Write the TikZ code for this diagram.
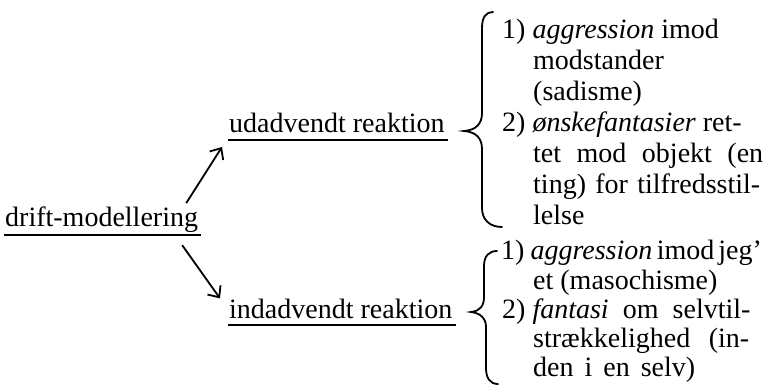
\documentclass[tikz,border=0pt]{standalone}
\usepackage{fontspec}
\setmainfont{Liberation Serif}
\usetikzlibrary{arrows.meta}
\begin{document}
\begin{tikzpicture}[x=1pt,y=-1pt,
  lbl/.style={anchor=base west,inner sep=0pt,font=\fontsize{28}{31}\selectfont},
  uline/.style={line width=1.6pt},
  conn/.style={line width=1.8pt,-{Straight Barb[length=9pt,width=16pt,line width=1.8pt]}},
  bracepath/.style={line width=1.8pt,line cap=round}]
\useasboundingbox (0,0) rectangle (763,386);
% left labels
\node[lbl] (drift) at (5,226) {drift-modellering};
\node[lbl] (ud) at (229,132) {udadvendt reaktion};
\node[lbl] (ind) at (229,318) {indadvendt reaktion};
% underlines
\draw[uline] ([xshift=-1pt,yshift=-9pt]drift.base west) -- ([xshift=3pt,yshift=-9pt]drift.base east);
\draw[uline] ([xshift=-1pt,yshift=-8pt]ud.base west) -- ([xshift=3pt,yshift=-8pt]ud.base east);
\draw[uline] ([xshift=-1pt,yshift=-7pt]ind.base west) -- ([xshift=3pt,yshift=-7pt]ind.base east);
% arrows
\draw[conn] ([xshift=-12pt,yshift=3pt]drift.north east) -- ([xshift=-7pt,yshift=-15pt]ud.base west);
\draw[conn] ([xshift=-16pt,yshift=-13pt]drift.south east) -- ([xshift=-9pt]ind.north west);
% braces
\draw[bracepath] (493,12) .. controls (486,12) and (482,17) .. (482,28) -- (482,113)
  .. controls (482,124) and (476,130) .. (464,131)
  .. controls (476,132) and (482,138) .. (482,149) -- (482,208)
  .. controls (482,220) and (490,227) .. (502,227);
\draw[bracepath] (497,251) .. controls (489,251) and (484,256) .. (484,266) -- (484,297)
  .. controls (484,306) and (480,311) .. (471,312)
  .. controls (480,313) and (486,318) .. (486,327) -- (486,368)
  .. controls (486,378) and (490,384) .. (498,384);
% upper block
\node[lbl] (a1) at (502,38) {1) \textit{aggression} imod};
\node[lbl] (a2) at (533,69) {modstander};
\node[lbl] (a3) at (533,100) {(sadisme)};
\node[lbl] (a4) at (502,131) {2) \textit{ønskefantasier} ret-};
\node[lbl] (a5) at (533,162) {\makebox[230pt][s]{tet mod objekt (en}};
\node[lbl] (a6) at (533,193) {\makebox[227pt][s]{ting) for tilfredsstil-}};
\node[lbl] (a7) at (533,224) {lelse};
% lower block
\node[lbl] (b1) at (501,259) {1)\hspace{6pt}\textit{aggression}\hspace{4.5pt}imod\hspace{4pt}jeg’};
\node[lbl] (b2) at (533,289) {et (masochisme)};
\node[lbl] (b3) at (502,318) {2)\hspace{7pt}\makebox[218pt][s]{\textit{fantasi} om selvtil-}};
\node[lbl] (b4) at (533,347) {\makebox[216pt][s]{strækkelighed (in-}};
\node[lbl] (b5) at (533,376) {den\hspace{11pt}i\hspace{11pt}en\hspace{11pt}selv)};
\end{tikzpicture}
\end{document}
